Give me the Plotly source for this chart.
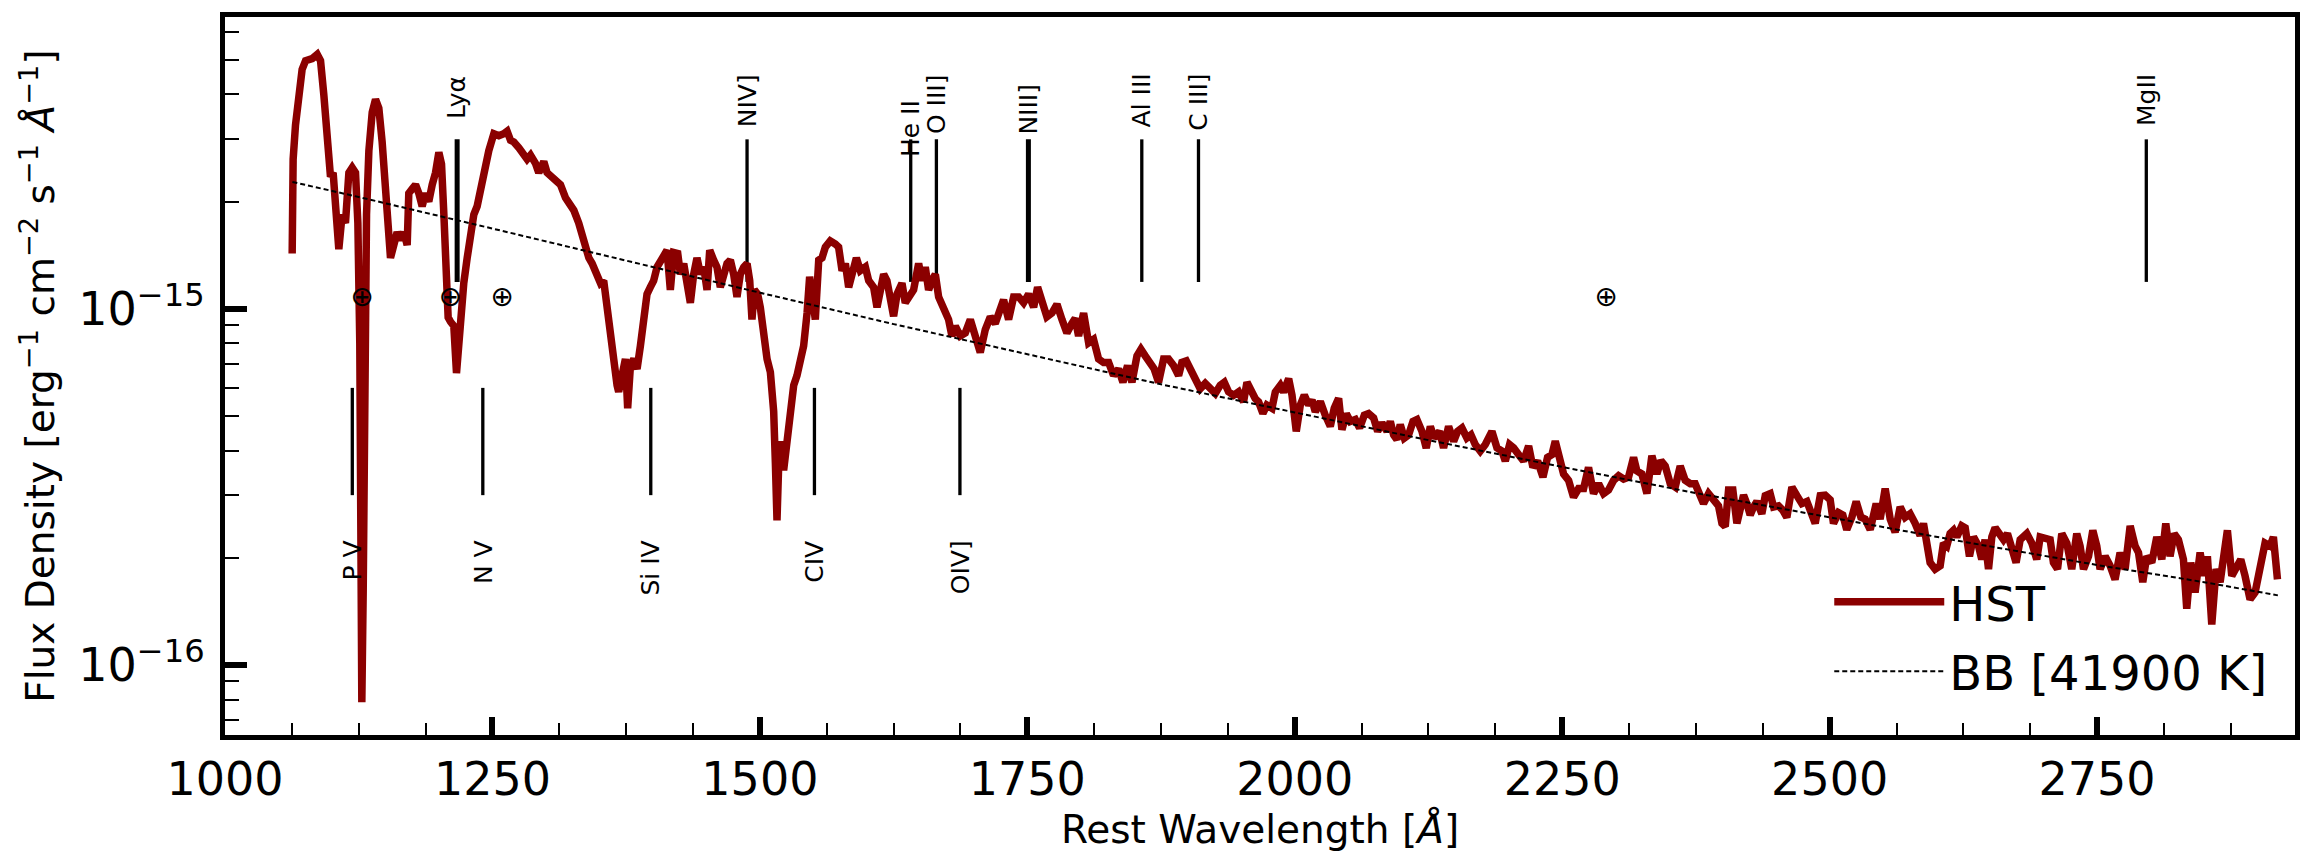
import math
import plotly.graph_objects as go

# ---------------- data ----------------
# HST spectrum: rest wavelength [Angstrom] and flux density in units of 1e-16 erg/cm2/s/A
wavelength = [
    1062.8, 1063.7, 1065.9, 1069.0, 1072.1, 1075.3, 1081.5, 1086.2, 1089.3, 1092.4,
    1095.5, 1098.6, 1101.1, 1103.3, 1106.4, 1109.5, 1112.6, 1115.8, 1118.9, 1122.0,
    1124.2, 1126.0, 1127.3, 1127.9, 1129.2, 1130.4, 1132.3, 1134.5, 1137.6, 1140.7,
    1143.8, 1146.9, 1150.0, 1153.1, 1154.7, 1157.8, 1160.9, 1164.0, 1167.2, 1170.3,
    1171.8, 1175.0, 1178.1, 1181.2, 1184.3, 1187.4, 1190.5, 1193.7, 1196.8, 1199.9,
    1202.4, 1204.6, 1206.7, 1208.6, 1210.8, 1213.9, 1216.4, 1218.6, 1220.1, 1223.2,
    1226.4, 1229.5, 1232.6, 1235.7, 1238.8, 1241.3, 1243.5, 1246.6, 1251.3, 1256.0,
    1260.6, 1263.7, 1266.9, 1270.0, 1274.7, 1279.3, 1282.4, 1285.6, 1290.2, 1293.3,
    1298.0, 1301.1, 1305.8, 1308.9, 1313.6, 1318.3, 1323.0, 1326.1, 1330.7, 1333.8,
    1337.0, 1340.1, 1343.2, 1347.8, 1351.0,
    1354.0, 1357.1, 1360.2, 1363.4, 1366.5, 1368.0, 1371.1, 1374.3, 1376.4, 1379.0,
    1382.1, 1385.2, 1388.3, 1391.4, 1394.5, 1397.6, 1400.7, 1403.9, 1407.0, 1410.1,
    1413.2, 1416.3, 1419.4, 1423.2, 1425.7, 1428.8, 1431.9, 1435.0, 1438.1, 1441.2,
    1444.4, 1447.5, 1450.6, 1453.1, 1456.8, 1459.9, 1463.0, 1466.2, 1469.3, 1472.4,
    1475.5, 1478.6, 1481.7, 1484.9, 1488.0, 1490.5, 1492.6, 1494.8, 1497.9, 1500.4,
    1503.5, 1506.7, 1509.8, 1512.9, 1514.5, 1516.0, 1517.6, 1519.1, 1522.2, 1525.4,
    1528.5, 1531.6, 1534.7, 1537.8, 1540.9, 1544.1, 1546.5, 1548.7, 1551.8, 1555.0,
    1558.1, 1561.2, 1565.8, 1570.5, 1573.6, 1576.8, 1579.9, 1583.0, 1586.1, 1590.2,
    1593.9, 1598.6, 1601.7, 1606.3, 1609.5, 1612.6, 1615.7, 1618.8, 1621.9, 1625.0,
    1628.2, 1632.8, 1635.9, 1639.0, 1643.7, 1648.4, 1651.5, 1654.6, 1657.7, 1660.9,
    1664.0,
    1667.1, 1671.8, 1676.4, 1679.5, 1682.7, 1687.3, 1692.0, 1696.7, 1701.4, 1706.0,
    1710.7, 1715.4, 1720.0, 1724.7, 1727.8, 1732.5, 1737.2, 1741.9, 1746.5, 1751.2,
    1755.9, 1759.6, 1763.7, 1768.3, 1773.0, 1777.7, 1782.4, 1787.0, 1791.7, 1794.8,
    1797.9, 1802.6, 1807.3, 1811.9, 1816.6, 1821.3, 1826.0, 1830.6, 1835.3, 1839.4,
    1843.7, 1847.8, 1852.5, 1856.2, 1860.2, 1864.9, 1868.6, 1872.7, 1877.4, 1882.0,
    1886.7, 1891.4, 1894.5, 1898.6, 1902.3, 1907.0, 1911.6, 1916.3, 1921.0, 1925.7,
    1930.3, 1934.1, 1938.1, 1942.8, 1947.5, 1952.1, 1955.3, 1959.0, 1963.0, 1966.2,
    1970.2, 1973.9,
    1978.7, 1981.8, 1986.5, 1989.6, 1994.3, 1997.4, 2001.4, 2005.2, 2008.9, 2013.0,
    2016.1, 2019.2, 2023.9, 2028.5, 2033.2, 2036.9, 2041.0, 2044.1, 2048.2, 2051.9,
    2056.6, 2060.6, 2065.0, 2069.0, 2073.7, 2077.5, 2081.5, 2086.2, 2089.3, 2092.4,
    2095.5, 2098.6, 2102.4, 2106.4, 2110.5, 2114.2, 2118.9, 2122.9, 2126.7, 2130.4,
    2135.4, 2139.1, 2143.8, 2148.5, 2152.2, 2156.3, 2160.9, 2164.7, 2168.7, 2173.4,
    2178.1, 2184.3, 2189.0, 2193.6, 2196.8, 2200.8, 2204.6, 2209.2, 2213.9, 2218.6,
    2222.6, 2227.0, 2232.0, 2236.3, 2240.4, 2243.5, 2247.6, 2251.3, 2256.0, 2260.6,
    2265.3, 2270.0, 2274.6,
    2279.3, 2284.0, 2288.7, 2293.3, 2298.0, 2302.7, 2307.4, 2312.0, 2316.7, 2319.8,
    2324.5, 2329.2, 2333.8, 2338.5, 2342.2, 2346.3, 2351.0, 2355.6, 2360.3, 2365.0,
    2369.7, 2374.3, 2379.0, 2382.1, 2386.8, 2391.5, 2396.1, 2399.3, 2402.4, 2405.5,
    2409.5, 2413.3, 2416.4, 2419.5, 2422.6, 2425.7, 2428.9, 2432.0, 2436.6, 2439.8,
    2444.4, 2447.6, 2452.2, 2456.3, 2460.0, 2464.7, 2469.4, 2474.0, 2478.7, 2483.4,
    2486.5, 2491.2, 2495.8, 2500.5, 2503.6, 2508.3, 2512.3, 2516.0, 2520.7, 2524.8,
    2529.2, 2533.2, 2537.9, 2543.5, 2547.2, 2551.9, 2556.6, 2561.2, 2565.9, 2570.6,
    2575.2, 2579.9, 2584.6, 2587.7, 2590.8,
    2593.9, 2598.6, 2603.3, 2606.4, 2609.5, 2612.6, 2615.8, 2618.9, 2623.5, 2626.7,
    2630.7, 2634.4, 2639.1, 2642.2, 2645.3, 2648.5, 2651.6, 2654.7, 2659.4, 2662.5,
    2666.2, 2670.3, 2674.3, 2678.1, 2684.3, 2689.0, 2693.6, 2696.8, 2701.4, 2706.1,
    2709.2, 2713.0, 2717.0, 2721.7, 2726.3, 2731.0, 2734.1, 2737.3, 2742.0, 2746.0,
    2749.7, 2752.8, 2757.5, 2762.2, 2766.8, 2771.5, 2776.2, 2780.9, 2785.5, 2788.7,
    2792.7, 2796.4, 2801.1, 2805.8, 2810.5, 2814.2, 2818.2, 2822.0, 2826.0, 2830.7,
    2833.8, 2837.6, 2841.6, 2846.3, 2850.0, 2853.1, 2857.2, 2861.2, 2865.0, 2868.1,
    2871.8, 2875.9, 2880.5, 2884.3, 2888.3, 2893.0, 2897.7, 2902.4, 2907.0, 2911.7,
    2914.8, 2918.6,
]

flux_e16 = [
    14.3, 26.3, 32.8, 39.8, 47.0, 49.7, 50.4, 51.8, 49.7, 39.8,
    29.4, 23.5, 24.1, 18.4, 14.7, 18.4, 17.4, 24.1, 24.9, 24.1,
    17.4, 8.0, 2.66, 0.787, 1.62, 8.0, 18.4, 27.8, 35.6, 38.7,
    36.6, 29.4, 21.1, 16.0, 13.9, 15.1, 16.4, 15.6, 16.4, 15.1,
    21.1, 21.7, 22.3, 21.1, 19.4, 21.1, 20.0, 22.3, 24.1, 27.5,
    25.5, 18.4, 13.2, 9.46, 9.2, 8.95, 6.6, 8.0, 10.0, 11.8,
    13.9, 16.0, 18.4, 19.4, 21.7, 24.1, 25.6, 27.8, 31.0, 30.6,
    31.0, 31.5, 29.7, 29.4, 28.3, 27.0, 26.3, 27.0, 25.6, 24.1,
    25.9, 24.1, 23.5, 22.9, 22.3, 20.5, 19.4, 18.9, 17.4, 16.0,
    14.7, 13.9, 13.4, 12.5, 11.8,
    12.0, 10.1, 8.57, 6.64, 6.1, 5.85, 6.37, 7.23, 5.26, 6.93,
    7.23, 6.78, 7.87, 9.73, 11.0, 11.5, 12.0, 13.1, 13.7, 14.3,
    14.6, 11.3, 14.4, 14.3, 12.5, 13.4, 11.8, 10.4, 12.5, 13.9,
    12.5, 13.1, 11.3, 14.6, 13.7, 13.1, 11.5, 12.5, 13.4, 13.7,
    12.5, 10.8, 12.5, 13.1, 13.4, 12.0, 9.33, 11.3, 11.0, 10.1,
    8.21, 7.23, 6.64, 5.15, 3.67, 2.55, 3.67, 4.25, 3.52, 4.25,
    4.73, 6.1, 6.5, 7.23, 7.87, 9.73, 12.3, 11.0, 9.33, 13.7,
    13.9, 14.9, 15.5, 15.2, 14.9, 12.8, 13.4, 11.5, 12.8, 13.9,
    12.8, 13.1, 12.0, 11.5, 10.1, 11.3, 12.5, 12.0, 10.8, 9.53,
    11.0, 11.8, 10.4, 10.8, 11.3, 13.4, 12.0, 13.1, 11.3, 12.0,
    12.5,
    10.8, 9.94, 9.33, 8.39, 8.94, 8.39, 8.56, 9.33, 8.21, 7.54,
    8.75, 9.5, 9.1, 9.94, 10.6, 9.33, 10.8, 10.8, 10.4, 11.0,
    10.1, 11.5, 10.4, 9.5, 9.73, 10.3, 9.33, 8.56, 9.1, 9.4,
    8.39, 9.73, 8.03, 8.21, 7.23, 7.07, 7.07, 6.5, 6.78, 6.22,
    6.93, 6.22, 7.38, 7.7, 7.38, 7.07, 6.78, 6.22, 7.23, 7.23,
    6.93, 6.5, 7.07, 7.14, 6.78, 6.43, 5.97, 6.18, 5.97, 5.79,
    6.1, 6.22, 5.85, 5.72, 5.85, 5.48, 6.22, 5.85, 5.6, 5.48,
    5.09, 5.37,
    5.26, 5.84, 6.1, 5.84, 6.37, 5.73, 4.53, 5.37, 5.73, 5.37,
    5.55, 5.14, 5.49, 5.03, 4.68, 5.26, 5.61, 4.58, 5.08, 4.83,
    4.89, 4.63, 5.03, 5.08, 4.94, 4.53, 4.78, 4.53, 4.83, 4.43,
    4.3, 4.73, 4.34, 4.43, 4.83, 4.89, 4.53, 4.07, 4.68, 4.34,
    4.53, 4.07, 4.68, 4.25, 4.53, 4.63, 4.34, 4.43, 4.16, 3.99,
    4.16, 4.53, 4.07, 3.99, 3.74, 4.16, 4.07, 3.9, 3.74, 4.12,
    3.59, 3.74, 3.37, 3.83, 3.9, 4.25, 3.83, 3.44, 3.3, 2.96,
    3.13, 3.13, 3.59,
    3.03, 3.23, 3.03, 3.1, 3.3, 3.4, 3.33, 3.37, 3.83, 3.51,
    3.44, 3.03, 3.87, 3.44, 3.75, 3.62, 3.23, 3.16, 3.62, 3.3,
    3.23, 3.23, 3.03, 2.84, 3.03, 2.93, 2.8, 2.5, 2.45, 3.1,
    3.1, 2.5, 2.72, 3.0, 2.84, 2.64, 2.78, 2.88, 2.66, 2.99,
    3.03, 2.78, 2.8, 2.72, 2.6, 3.16, 2.99, 2.84, 2.88, 2.6,
    2.5, 2.99, 3.0, 2.91, 2.5, 2.68, 2.64, 2.4, 2.6, 2.88,
    2.6, 2.57, 2.4, 2.84, 2.57, 3.13, 2.57, 2.36, 2.78, 2.6,
    2.66, 2.5, 2.31, 2.5, 2.2,
    1.94, 1.86, 1.9, 2.2, 2.16, 2.34, 2.39, 2.29, 2.46, 2.43,
    2.02, 2.29, 2.16, 1.98, 2.25, 1.86, 2.29, 2.43, 2.34, 2.25,
    2.34, 2.16, 1.94, 2.25, 2.34, 2.2, 1.98, 2.29, 2.27, 2.25,
    1.94, 1.86, 2.34, 2.2, 1.86, 2.34, 2.16, 1.86, 2.02, 2.39,
    2.16, 1.86, 2.02, 1.9, 1.74, 2.07, 1.86, 2.46, 2.16, 2.07,
    1.71, 2.02, 1.94, 2.29, 1.98, 2.5, 2.02, 2.34, 2.25, 1.98,
    1.44, 1.94, 1.6, 2.07, 1.78, 2.02, 1.3, 1.86, 1.71, 1.98,
    2.39, 1.78, 1.9, 1.98, 1.78, 1.53, 1.6, 1.86, 2.2, 2.16,
    2.29, 1.74,
]

# Blackbody model curve (same units)
bb_wavelength = [1063, 1125, 1250, 1375, 1500, 1625, 1750, 1875, 2000, 2125,
                 2250, 2375, 2500, 2625, 2750, 2850, 2919]
bb_flux_e16 = [22.7, 20.6, 16.8, 13.65, 11.1, 9.06, 7.45, 6.14, 5.12, 4.28,
               3.60, 3.04, 2.60, 2.22, 1.91, 1.71, 1.57]

FLUX_UNIT = 1e-16

# Emission line markers (top) and absorption line markers (bottom)
upper_names = ["Lyα", "NIV]", "He II", "O III]", "NIII]", "Al III", "C III]", "MgII"]
upper_wl = [1217, 1488, 1641, 1665, 1751, 1857, 1910, 2796]
upper_label_top = [4.55e-15, 4.6e-15, 3.91e-15, 4.63e-15, 4.34e-15, 4.63e-15, 4.63e-15, 4.63e-15]
upper_span = [1.19e-15, 2.99e-15]

lower_names = ["P V", "N V", "Si IV", "CIV", "OIV]"]
lower_wl = [1119, 1241, 1398, 1551, 1687]
lower_label_top = [2.27e-16, 2.27e-16, 2.27e-16, 2.27e-16, 2.27e-16]
lower_span = [3.0e-16, 6.0e-16]

# Earth (telluric / geocoronal) symbols
earth_wl = [1128, 1210.5, 1259, 2291]
earth_flux = [1.066e-15, 1.066e-15, 1.066e-15, 1.066e-15]

# Axis ticks
xtick_vals = [1000, 1250, 1500, 1750, 2000, 2250, 2500, 2750]
xtick_text = ["1000", "1250", "1500", "1750", "2000", "2250", "2500", "2750"]
ytick_vals = [1e-16, 1e-15]
ytick_text = ["10<sup>−16</sup>", "10<sup>−15</sup>"]
yminor_vals = [7e-17, 8e-17, 9e-17, 2e-16, 3e-16, 4e-16, 5e-16, 6e-16, 7e-16, 8e-16,
               9e-16, 2e-15, 3e-15, 4e-15, 5e-15, 6e-15]

# ---------------- styling ----------------
FONT = "DejaVu Sans"
THICK_MARKERS = {"Lyα", "NIII]"}
HST_COLOR = "#8b0000"

fig = go.Figure()


def marker_trace(wls, span, width):
    xs, ys = [], []
    for w in wls:
        xs += [w, w, None]
        ys += [span[0], span[1], None]
    return go.Scatter(x=xs, y=ys, mode="lines", showlegend=False, hoverinfo="skip",
                      line=dict(color="black", width=width))


thin_up = [w for n, w in zip(upper_names, upper_wl) if n not in THICK_MARKERS]
thick_up = [w for n, w in zip(upper_names, upper_wl) if n in THICK_MARKERS]
fig.add_trace(marker_trace(thin_up, upper_span, 3.3))
fig.add_trace(marker_trace(thick_up, upper_span, 5.0))
fig.add_trace(marker_trace(lower_wl, lower_span, 3.3))

fig.add_trace(go.Scatter(
    x=wavelength, y=[v * FLUX_UNIT for v in flux_e16], mode="lines", name="HST",
    legendgroup="hst", line=dict(color=HST_COLOR, width=7.5)))

fig.add_trace(go.Scatter(
    x=bb_wavelength, y=[v * FLUX_UNIT for v in bb_flux_e16], mode="lines",
    name="BB [41900 K]", legendgroup="bb",
    line=dict(color="black", width=2, dash="5px,3px")))

fig.add_trace(go.Scatter(
    x=earth_wl, y=earth_flux, mode="text", text=["⊕"] * len(earth_wl),
    textposition="middle center", showlegend=False, hoverinfo="skip",
    textfont=dict(family=FONT, size=28, color="black")))

annotations = []
for n, w, t in zip(upper_names, upper_wl, upper_label_top):
    annotations.append(dict(x=w, y=math.log10(t), xref="x", yref="y", text=n,
                            showarrow=False, textangle=-90, xanchor="center",
                            yanchor="top",
                            font=dict(family=FONT, size=25, color="black")))
for n, w, t in zip(lower_names, lower_wl, lower_label_top):
    annotations.append(dict(x=w, y=math.log10(t), xref="x", yref="y", text=n,
                            showarrow=False, textangle=-90, xanchor="center",
                            yanchor="top",
                            font=dict(family=FONT, size=25, color="black")))

fig.update_layout(
    width=2316, height=858,
    margin=dict(l=225, r=21, t=13, b=116),
    paper_bgcolor="white", plot_bgcolor="white",
    font=dict(family=FONT, color="black"),
    annotations=annotations,
    legend=dict(x=0.775, y=0.238, xanchor="left", yanchor="top",
                bgcolor="rgba(0,0,0,0)", font=dict(family=FONT, size=48),
                tracegroupgap=4, itemwidth=110),
)

fig.update_xaxes(
    range=[1000, 2935], showgrid=False, zeroline=False,
    showline=True, linewidth=5, linecolor="black", mirror=True,
    tickmode="array", tickvals=xtick_vals, ticktext=xtick_text,
    ticks="inside", ticklen=18, tickwidth=6, tickcolor="black",
    tickfont=dict(family=FONT, size=46, color="black"),
    minor=dict(tick0=1000, dtick=62.5, ticks="inside", ticklen=12, tickwidth=2,
               tickcolor="black", showgrid=False),
    title=dict(text="Rest Wavelength [<i>Å</i>]", standoff=12,
               font=dict(family=FONT, size=39, color="black")),
)

fig.update_yaxes(
    type="log", range=[-16.196, -14.181], showgrid=False, zeroline=False,
    showline=True, linewidth=5, linecolor="black", mirror=True,
    tickmode="array", tickvals=ytick_vals, ticktext=ytick_text,
    ticks="inside", ticklen=22, tickwidth=6, tickcolor="black",
    tickfont=dict(family=FONT, size=46, color="black"),
    ticklabelstandoff=6,
    minor=dict(tickmode="array", tickvals=yminor_vals, ticks="inside", ticklen=14,
               tickwidth=2, tickcolor="black", showgrid=False),
    title=dict(text="Flux Density [erg<sup>−1</sup> cm<sup>−2</sup> s<sup>−1</sup> <i>Å</i><sup>−1</sup>]",
               standoff=13, font=dict(family=FONT, size=39, color="black")),
)

fig.write_html("out.html")
